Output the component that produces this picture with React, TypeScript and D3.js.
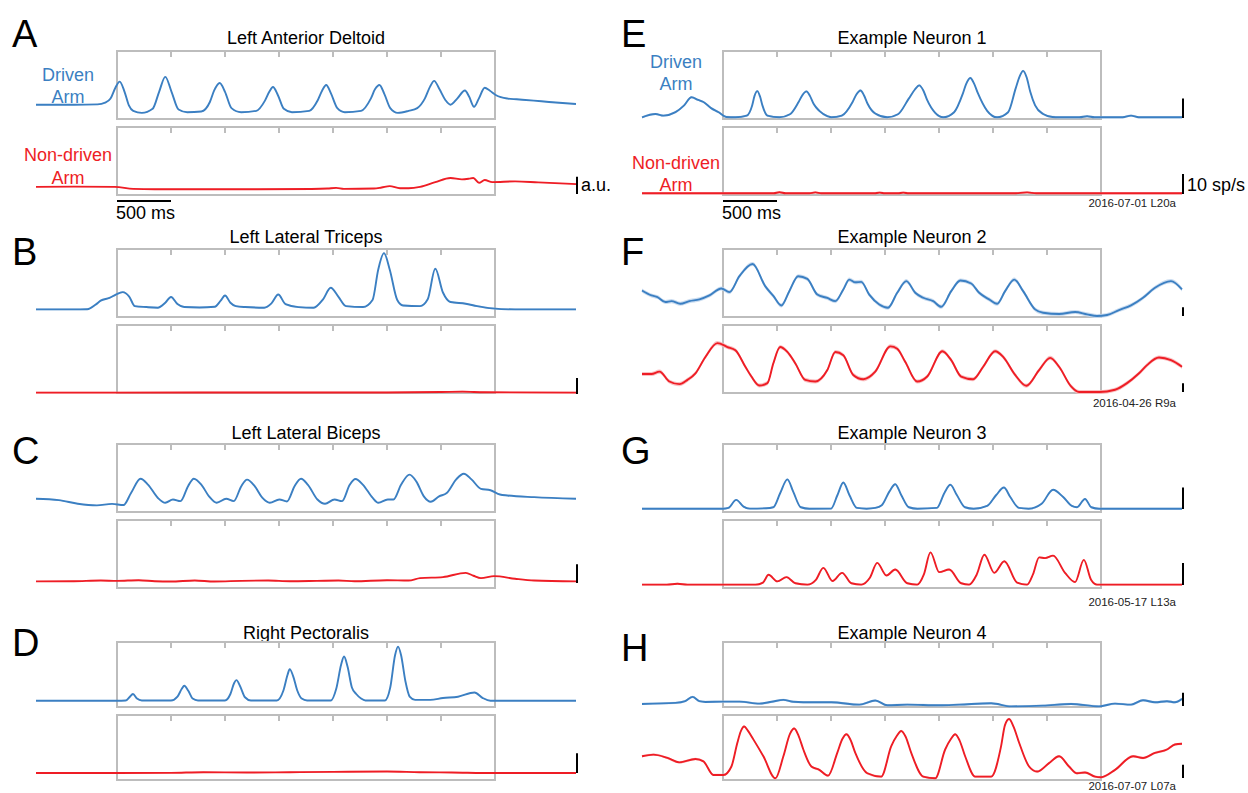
import React from 'react';
import * as d3 from 'd3';

type Pt = [number, number];

// time axis (ms relative to movement start); hold window is 0..3500 ms
const tStart = -750;
const tEnd = 4250;
const tickTimes = [500, 1000, 1500, 2000, 2500, 3000];

const emgLetters = ['A', 'B', 'C', 'D'];
const neuronLetters = ['E', 'F', 'G', 'H'];
const emgTitles = ['Left Anterior Deltoid', 'Left Lateral Triceps', 'Left Lateral Biceps', 'Right Pectoralis'];
const neuronTitles = ['Example Neuron 1', 'Example Neuron 2', 'Example Neuron 3', 'Example Neuron 4'];
const sessionIds = ['2016-07-01 L20a', '2016-04-26 R9a', '2016-05-17 L13a', '2016-07-07 L07a'];

// values in % of each sub-panel's vertical range
const deltoidDriven: Pt[] = [[-750,21],[-400,21],[-180,21.5],[-110,24],[-60,30],[-15,46],[25,55],[70,40],[110,20],[150,12],[230,9],[330,15],[390,40],[447,62],[505,40],[570,14],[650,10],[780,11],[860,25],[900,42],[951,53],[1000,40],[1060,16],[1150,10],[1290,12],[1370,27],[1410,40],[1444,47],[1490,35],[1545,15],[1620,10],[1780,12],[1860,28],[1900,42],[1937,50],[1980,38],[2040,16],[2110,10],[2260,12],[2350,30],[2390,44],[2430,50],[2475,37],[2530,16],[2600,9],[2700,12],[2780,16],[2850,30],[2900,48],[2937,56],[2985,44],[3040,28],[3088,21],[3150,30],[3222,42],[3260,33],[3306,18],[3350,30],[3405,46],[3450,42],[3510,35],[3620,30],[3700,29],[3860,27],[4000,25],[4250,22]];
const deltoidNonDriven: Pt[] = [[-750,12],[-400,12.3],[-20,12],[150,9],[350,8.5],[800,8.5],[1300,8.5],[1800,8.8],[1950,9.5],[2030,10.5],[2100,9],[2380,9.5],[2450,11],[2525,13],[2620,10],[2700,10],[2806,12],[2947,19],[3088,25],[3194,23],[3260,24],[3299,25],[3352,18],[3405,22],[3475,19],[3686,20],[3900,18.5],[4250,16]];

const tricepsDriven: Pt[] = [[-750,11.2],[-400,11.2],[-275,11.5],[-200,18],[-151,24],[-70,28],[-11,33],[53,36.6],[113,30],[165,16],[271,14.6],[377,13.7],[447,21],[500,29.5],[560,19],[623,14.6],[764,14],[905,15],[960,24],[1000,31.7],[1050,21],[1100,16],[1187,14.6],[1363,13.7],[1430,20],[1493,33],[1560,19],[1680,14.6],[1820,13.7],[1908,26],[1979,43],[2049,30],[2120,16],[2278,14.6],[2366,25],[2419,70],[2472,94],[2525,70],[2595,25],[2648,17],[2806,16],[2877,26],[2947,71],[3018,36],[3088,22],[3229,19.5],[3334,16],[3475,12.7],[3686,11.2],[4250,11.2]];
const tricepsNonDriven: Pt[] = [[-750,0.5],[0,0.5],[1500,0.8],[2500,0.8],[3000,1.5],[3200,2],[3400,1],[4250,0.5]];

const bicepsDriven: Pt[] = [[-750,19.4],[-539,17.5],[-363,12.1],[-187,9.7],[-46,12],[60,10.2],[130,28],[218,49],[289,40],[377,21],[447,13.6],[518,18.4],[588,16],[658,38],[711,49],[782,40],[852,23],[923,13.6],[1011,19.4],[1081,16],[1151,38],[1204,47.6],[1275,38],[1345,21],[1415,13.6],[1503,18.4],[1574,15.5],[1644,38],[1704,49],[1768,40],[1856,18.4],[1926,12.1],[2014,18.4],[2084,16],[2155,40],[2208,48.5],[2278,40],[2366,21],[2419,13.6],[2507,18.4],[2560,18.4],[2630,40],[2708,55],[2771,45],[2841,23],[2905,15],[2982,23],[3053,28],[3141,48],[3211,56.3],[3282,48],[3370,34],[3458,32],[3546,25.7],[3616,24.3],[3862,21.8],[4250,19.4]];
const bicepsNonDriven: Pt[] = [[-750,9.7],[-400,10],[-150,11],[0,10.5],[200,11.5],[350,10],[500,9.5],[720,11],[900,9.5],[1150,10.5],[1400,11],[1600,10],[1850,10.5],[2050,11],[2200,10],[2500,11.5],[2700,11],[2806,14.5],[3018,16],[3229,22.3],[3300,18],[3370,14.5],[3493,17.5],[3686,13.6],[3862,11],[4250,9.7]];

const pectoralisDriven: Pt[] = [[-750,9.7],[0,9.7],[80,10],[115,15],[148,20],[185,13],[230,10],[500,10],[560,16],[600,28],[623,32.7],[660,25],[700,13],[750,10],[1000,10],[1050,20],[1085,37],[1106,41.3],[1140,32],[1185,15],[1240,10],[1480,10],[1540,25],[1580,50],[1599,58.2],[1630,48],[1670,25],[1710,13],[1760,10],[1980,10],[2030,28],[2075,65],[2102,77.6],[2135,62],[2175,30],[2215,20],[2260,13],[2300,10],[2480,10],[2530,30],[2575,80],[2602,92.9],[2630,80],[2670,40],[2710,16],[2760,11],[2900,11],[3018,13.8],[3158,15.8],[3310,22.4],[3387,13.8],[3458,9.7],[4250,9.7]];
const pectoralisNonDriven: Pt[] = [[-750,10.7],[0,10.7],[500,11],[800,12],[1200,11.5],[1600,12],[2000,12.5],[2500,13],[2800,12],[3100,11.5],[3500,10.7],[4250,10.7]];

const neuron1Driven: Pt[] = [[-750,2.5],[-625,7.4],[-551,5],[-440,10],[-360,20],[-292,32],[-230,28],[-181,25],[-110,16],[-40,10],[30,3],[115,2.5],[220,5],[270,20],[292,34],[318,41],[343,33],[365,20],[411,5],[522,2.5],[620,7],[700,25],[735,35],[773,40.6],[805,34],[840,22],[892,12],[970,4],[1003,2.5],[1100,5],[1200,25],[1235,36],[1273,42],[1305,35],[1340,22],[1410,8],[1521,2.5],[1620,7],[1720,30],[1775,43],[1817,49.5],[1855,42],[1890,28],[1965,9],[2039,2.5],[2140,10],[2220,37],[2250,51],[2290,60.4],[2325,52],[2360,38],[2446,12],[2538,2.5],[2640,10],[2710,45],[2745,62],[2779,70.8],[2812,61],[2845,40],[2890,20],[2964,7.4],[3050,3],[3112,2.5],[3300,2.5],[3371,4],[3440,2.5],[3700,2.5],[3778,5],[3850,2.5],[4250,2.5]];
const neuron1NonDriven: Pt[] = [[-750,2.5],[0,2.5],[470,2.5],[522,4],[580,2.5],[800,2.5],[855,3.8],[910,2.5],[1400,2.5],[1450,3.5],[1500,2.5],[1620,2.5],[1669,3.5],[1720,2.5],[2700,2.5],[2816,3.8],[2900,2.5],[4250,2.5]];

const neuron2Driven: Pt[] = [[-750,39],[-662,31.7],[-607,29.3],[-533,22],[-477,23.4],[-396,19.5],[-311,23.4],[-218,25.9],[-126,31.7],[-15,42],[59,36.6],[152,60],[274,78],[392,45],[466,31],[540,17],[614,38],[696,60],[781,56],[873,33],[966,28],[1040,23.4],[1114,40.5],[1169,55],[1225,51],[1280,51.7],[1354,33],[1447,18.5],[1528,13.7],[1613,35.6],[1698,52.7],[1780,35.6],[1854,28.3],[1946,23.4],[2020,15],[2113,38],[2198,53.7],[2298,49.3],[2372,35.6],[2464,25.9],[2538,19.5],[2612,38],[2697,55],[2779,38],[2890,11.2],[2964,6.3],[3112,4.4],[3260,7.3],[3371,3.9],[3463,1.5],[3556,2.9],[3667,10.2],[3778,17.1],[3889,28.3],[4000,42.9],[4148,52.7],[4250,40.5]];
const neuron2NonDriven: Pt[] = [[-750,28],[-662,28],[-588,31.4],[-496,16.9],[-403,13],[-329,19.3],[-255,29],[-163,53],[-52,73.4],[41,67.6],[115,62.8],[207,38.6],[263,24.2],[337,11],[411,14.5],[466,43.5],[529,67.6],[596,60.4],[670,43.5],[762,19.3],[855,16.9],[966,33.8],[1040,60.4],[1114,55.6],[1206,26.6],[1299,20.3],[1410,31.4],[1550,68.6],[1613,65.2],[1687,45.9],[1798,16.9],[1891,24.2],[2031,61.4],[2113,48.3],[2205,24.2],[2316,20.3],[2409,38.6],[2520,61.4],[2594,53.1],[2705,26.6],[2808,10.6],[2927,33.8],[3030,51.7],[3112,38.6],[3223,9.7],[3297,1.4],[3482,1.4],[3630,4.8],[3741,14.5],[3852,29],[3926,41],[4037,52.2],[4148,48.3],[4250,38.6]];

const neuron3Driven: Pt[] = [[-750,4.8],[0,4.8],[50,6],[122,17.8],[190,8],[250,5],[400,5.5],[466,7],[530,28],[596,48],[650,30],[720,7],[800,4.8],[1000,5],[1060,25],[1114,43.3],[1170,25],[1240,6],[1330,4.8],[1410,6],[1470,10],[1540,30],[1595,40.9],[1650,25],[1720,7],[1800,4.8],[1980,6],[2050,28],[2105,40],[2165,25],[2240,7],[2320,4.8],[2446,9],[2530,25],[2601,36],[2660,22],[2740,6],[2830,4.8],[2950,12],[3056,32.7],[3150,22],[3230,9],[3278,7],[3352,19.2],[3410,7],[3482,4.8],[4250,4.8]];
const neuron3NonDriven: Pt[] = [[-750,4.9],[-520,4.9],[-422,6.3],[-330,4.9],[0,4.9],[300,4.9],[370,8],[422,19.4],[503,9.7],[588,16],[670,7],[781,4.9],[860,12],[929,29.6],[1014,10.2],[1103,22.3],[1188,7],[1280,4.9],[1360,15],[1428,36.9],[1513,18.4],[1595,27.2],[1706,7],[1798,4.9],[1860,20],[1921,52.4],[2002,23.3],[2094,27.2],[2205,7],[2279,5],[2350,20],[2420,49],[2512,22.3],[2605,39.3],[2723,8],[2816,5],[2870,20],[2927,45.1],[2982,44],[3056,47.6],[3167,22.3],[3260,8.7],[3341,41.3],[3408,12],[3463,4.9],[4250,4.9]];

const neuron4Driven: Pt[] = [[-750,4.7],[-440,6.3],[-350,9],[-281,15.6],[-220,9],[-163,7.8],[0,8.3],[152,8.3],[337,5.2],[450,8],[559,10.9],[650,8],[744,7.3],[1003,7.3],[1262,3.6],[1410,9.9],[1521,2.6],[1706,3.6],[2002,2.6],[2187,3.6],[2483,5.7],[2668,1],[2964,2.1],[3223,4.7],[3482,1],[3630,5.2],[3778,3.6],[3889,10.4],[4000,7.3],[4111,8.9],[4185,7.3],[4250,12.5]];
const neuron4NonDriven: Pt[] = [[-750,36.5],[-644,39],[-514,33.9],[-403,27.1],[-255,32.3],[-181,28.6],[-89,7.8],[4,7.8],[78,20.8],[133,57.3],[165,75],[196,82.3],[230,76],[281,62.5],[374,36.5],[485,2.6],[559,36.5],[620,71],[659,79.2],[700,68],[744,46.9],[818,20.8],[892,15.6],[973,6.8],[1058,41.7],[1105,63],[1143,70.3],[1180,62],[1225,41.7],[1336,10.4],[1465,5.2],[1558,52.1],[1610,68],[1650,75.5],[1690,67],[1743,41.7],[1854,5.2],[1965,2.6],[2057,46.9],[2110,63],[2150,70.3],[2190,61],[2242,36.5],[2335,5.2],[2483,5.2],[2575,52.1],[2610,84],[2649,93.8],[2690,82],[2742,57.3],[2834,20.8],[2908,13],[3019,26],[3112,36.5],[3204,20.8],[3278,10.4],[3352,11.5],[3445,5.2],[3500,4.2],[3630,15.6],[3797,36.5],[3889,33.9],[4000,41.7],[4111,46.9],[4185,54.7],[4250,55.7]];

// s.e.m. half-width of the shaded band, same units
const emgSem = [0.6, 1.2, 0.6, 0.6];
const neuronSem = [1.6, 3, 1.3, 1.8];

// scale bars [from, to] for driven / non-driven rows (null = none)
const emgBars: ([number, number] | null)[][] = [[null, [1.5, 27]], [null, [-1.5, 22]], [null, [7.4, 35]], [null, [10.6, 41]]];
const neuronBars: ([number, number] | null)[][] = [[[1.5, 30], [1.5, 31]], [[1.4, 14.5], [1.4, 14.5]], [[4.3, 36.2], [4.4, 36.8]], [[1.6, 21.9], [3.1, 23.4]]];

const emgDriven = [deltoidDriven, tricepsDriven, bicepsDriven, pectoralisDriven];
const emgNonDriven = [deltoidNonDriven, tricepsNonDriven, bicepsNonDriven, pectoralisNonDriven];
const neuronDriven = [neuron1Driven, neuron2Driven, neuron3Driven, neuron4Driven];
const neuronNonDriven = [neuron1NonDriven, neuron2NonDriven, neuron3NonDriven, neuron4NonDriven];

// layout
const colLeft = [117, 723];
const boxW = 378;
const pad = 81;
const rowTop = [51, 249, 444, 642];
const boxH = [68, 68, 68, 65];
const titleY = [44, 243, 439, 639];
const letterX = [12, 621];
const letterY = [[47, 265, 464, 656], [47, 265, 464, 661]];
const dateY = [207, 407, 606, 790];

const BLUE = '#3b7fc2';
const BLUE_LIGHT = '#c4d8ee';
const RED = '#ee1d25';
const RED_LIGHT = '#f8b9bb';
const GRAY = '#bdbdbd';
const FONT = 'Liberation Sans, Arial, Helvetica, sans-serif';

function Trace({ data, x, y, sem, color, light }: any) {
  const line = d3.line<Pt>().x(d => x(d[0])).y(d => y(d[1])).curve(d3.curveMonotoneX);
  const area = d3.area<Pt>().x(d => x(d[0])).y0(d => y(d[1] - sem)).y1(d => y(d[1] + sem)).curve(d3.curveMonotoneX);
  return (
    <g>
      <path d={area(data) || ''} fill={light} opacity={0.9} />
      <path d={line(data) || ''} fill="none" stroke={color} strokeWidth={1.9} />
    </g>
  );
}

function Panel({ col, row }: { col: number; row: number }) {
  const left = colLeft[col];
  const x = d3.scaleLinear().domain([tStart, tEnd]).range([left - pad, left + boxW + pad]);
  const h = boxH[row];
  const tops = [rowTop[row], rowTop[row] + h + 8];
  const traces = col === 0 ? [emgDriven[row], emgNonDriven[row]] : [neuronDriven[row], neuronNonDriven[row]];
  const bars = col === 0 ? emgBars[row] : neuronBars[row];
  const sem = col === 0 ? emgSem[row] : neuronSem[row];
  const title = col === 0 ? emgTitles[row] : neuronTitles[row];
  const letter = col === 0 ? emgLetters[row] : neuronLetters[row];
  const x0 = x(0), x1 = x(3500);
  const xEnd = x(tEnd) + 1;

  return (
    <g fontFamily={FONT}>
      <text x={letterX[col]} y={letterY[col][row]} fontSize={38}>{letter}</text>
      <text x={(x0 + x1) / 2} y={titleY[row]} fontSize={18} textAnchor="middle">{title}</text>
      {tops.map((top, i) => {
        const y = d3.scaleLinear().domain([0, 100]).range([top + h, top]);
        const bar = bars[i];
        return (
          <g key={i}>
            <rect x={x0} y={top} width={x1 - x0} height={h} fill="none" stroke={GRAY} strokeWidth={2} />
            {tickTimes.map(t => (
              <line key={t} x1={x(t)} x2={x(t)} y1={top} y2={top + 6} stroke={GRAY} strokeWidth={2} />
            ))}
            <Trace data={traces[i]} x={x} y={y} sem={sem}
              color={i === 0 ? BLUE : RED} light={i === 0 ? BLUE_LIGHT : RED_LIGHT} />
            {bar && <line x1={xEnd} x2={xEnd} y1={y(bar[0])} y2={y(bar[1])} stroke="#000" strokeWidth={2} />}
          </g>
        );
      })}
      {col === 1 && (
        <text x={1176} y={dateY[row]} fontSize={11.5} textAnchor="end" fill="#222">{sessionIds[row]}</text>
      )}
      {row === 0 && (
        <g>
          <text x={col === 0 ? 68 : 676} y={col === 0 ? 81 : 68} fontSize={18} fill={BLUE} textAnchor="middle">Driven</text>
          <text x={col === 0 ? 68 : 676} y={col === 0 ? 103 : 90} fontSize={18} fill={BLUE} textAnchor="middle">Arm</text>
          <text x={col === 0 ? 68 : 676} y={col === 0 ? 161 : 169} fontSize={18} fill={RED} textAnchor="middle">Non-driven</text>
          <text x={col === 0 ? 68 : 676} y={col === 0 ? 184 : 191} fontSize={18} fill={RED} textAnchor="middle">Arm</text>
          <line x1={x0} x2={x(500)} y1={201} y2={201} stroke="#000" strokeWidth={2} />
          <text x={x0 - 1} y={219} fontSize={18}>500 ms</text>
          <text x={xEnd + 4} y={191} fontSize={18}>{col === 0 ? 'a.u.' : '10 sp/s'}</text>
        </g>
      )}
    </g>
  );
}

export default function App() {
  return (
    <svg width={1248} height={793} style={{ position: 'absolute', left: 0, top: 0, background: '#fff' }}>
      <rect width={1248} height={793} fill="#fff" />
      {[0, 1].map(col => [0, 1, 2, 3].map(row => <Panel key={`${col}-${row}`} col={col} row={row} />))}
    </svg>
  );
}
